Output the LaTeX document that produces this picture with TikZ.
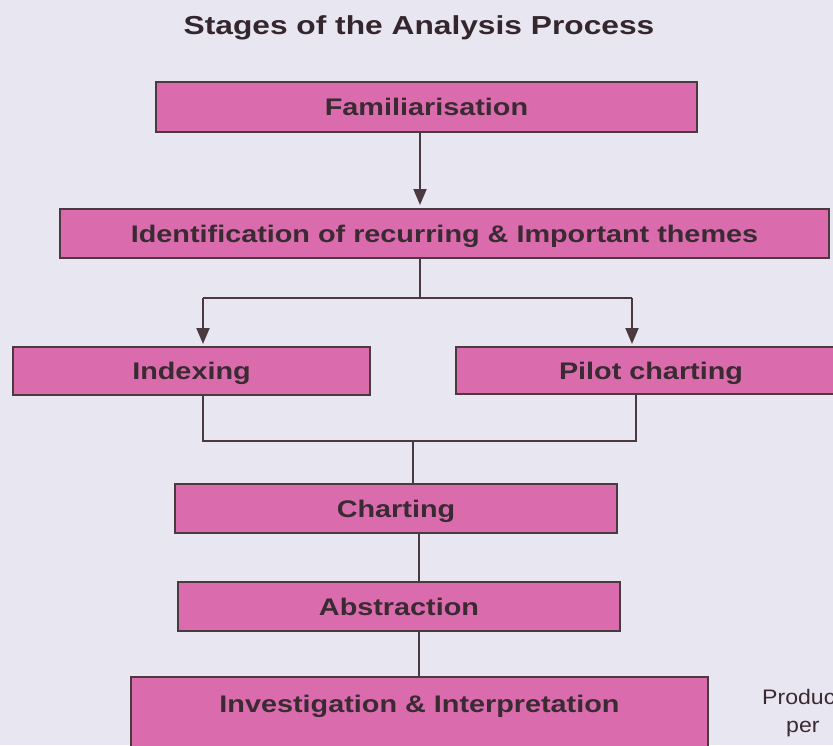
\documentclass[tikz,border=0pt]{standalone}
\usepackage{fontspec}
\setmainfont{Liberation Sans}
\usetikzlibrary{arrows.meta}
\definecolor{bg}{HTML}{E8E6F1}
\definecolor{pinkfill}{HTML}{DA6CAE}
\definecolor{edgec}{HTML}{4A3A40}
\definecolor{ink}{HTML}{3A2A32}
\newcommand\wideT[1]{\scalebox{1.2}[1]{#1}}
\begin{document}
\begin{tikzpicture}[x=1pt,y=-1pt,
  stage/.style={draw=edgec, line width=2pt, fill=pinkfill, inner sep=0pt,
    text=ink, font=\fontsize{24}{28}\selectfont\bfseries,
    text height=17pt, text depth=0pt},
  conn/.style={draw=edgec, line width=2pt},
  arr/.style={conn, -{Triangle[length=16pt,width=13pt]}, shorten >=3pt}]
\useasboundingbox (0,0) rectangle (833,745);
\fill[bg] (0,0) rectangle (833,745);
\clip (0,0) rectangle (833,745);

% title
\node[text=ink!90!black, font=\fontsize{26}{30}\selectfont\bfseries, inner sep=0pt,
      text height=18.5pt, text depth=0pt] (title) at (419,25)
      {\scalebox{1.22}[1]{Stages of the Analysis Process}};

% stages
\node[stage, minimum width=541pt, minimum height=50pt] (fam) at (426.5,107) {\wideT{Familiarisation}};
\node[stage, minimum width=769pt, minimum height=49pt] (ident) at (444.5,233.5) {\wideT{Identification of recurring \& Important themes}};
\node[stage, minimum width=357pt, minimum height=48pt] (index) at (191.5,371) {\wideT{Indexing}};
\node[stage, minimum width=390pt, minimum height=47pt] (pilot) at (651,370.5) {\wideT{Pilot charting}};
\node[stage, minimum width=442pt, minimum height=49pt] (chart) at (396,508.5) {\wideT{Charting}};
\node[stage, minimum width=442pt, minimum height=49pt] (abs) at (399,606.5) {\wideT{Abstraction}};
\node[stage, minimum width=577pt, text height=35.6pt, text depth=47.4pt] (inv) at (419.5,718.5) {\wideT{Investigation \& Interpretation}};

% side text (cut by the page edge, as in the reference)
\node[text=ink, font=\fontsize{21}{25}\selectfont, anchor=west, inner sep=0pt,
      text height=15pt, text depth=0pt] (prod) at (762,697) {\scalebox{1.1}[1]{Produc}};
\node[text=ink, font=\fontsize{21}{25}\selectfont, anchor=west, inner sep=0pt,
      text height=15pt, text depth=0pt] (per) at (786,725) {\scalebox{1.1}[1]{per}};

% helper columns
\coordinate (cA) at (420,0);
\coordinate (cL) at (203,0);
\coordinate (cR) at (632,0);
\coordinate (cR2) at (636,0);
\coordinate (cM) at (413,0);
\coordinate (cB) at (419,0);
\coordinate (j1) at (0,298);
\coordinate (j2) at (0,441);

% connectors
\draw[arr] (fam.south -| cA) -- (ident.north -| cA);
\draw[conn] (ident.south -| cA) -- (cA |- j1);
\draw[conn] (cL |- j1) -- (cR |- j1);
\draw[arr, shorten >=2pt] (cL |- j1) -- (index.north -| cL);
\draw[arr, shorten >=2pt] (cR |- j1) -- (pilot.north -| cR);
\draw[conn] (index.south -| cL) -- (cL |- j2) -- (cR2 |- j2) -- (pilot.south -| cR2);
\draw[conn] (cM |- j2) -- (chart.north -| cM);
\draw[conn] (chart.south -| cB) -- (abs.north -| cB);
\draw[conn] (abs.south -| cB) -- (inv.north -| cB);
\end{tikzpicture}
\end{document}
